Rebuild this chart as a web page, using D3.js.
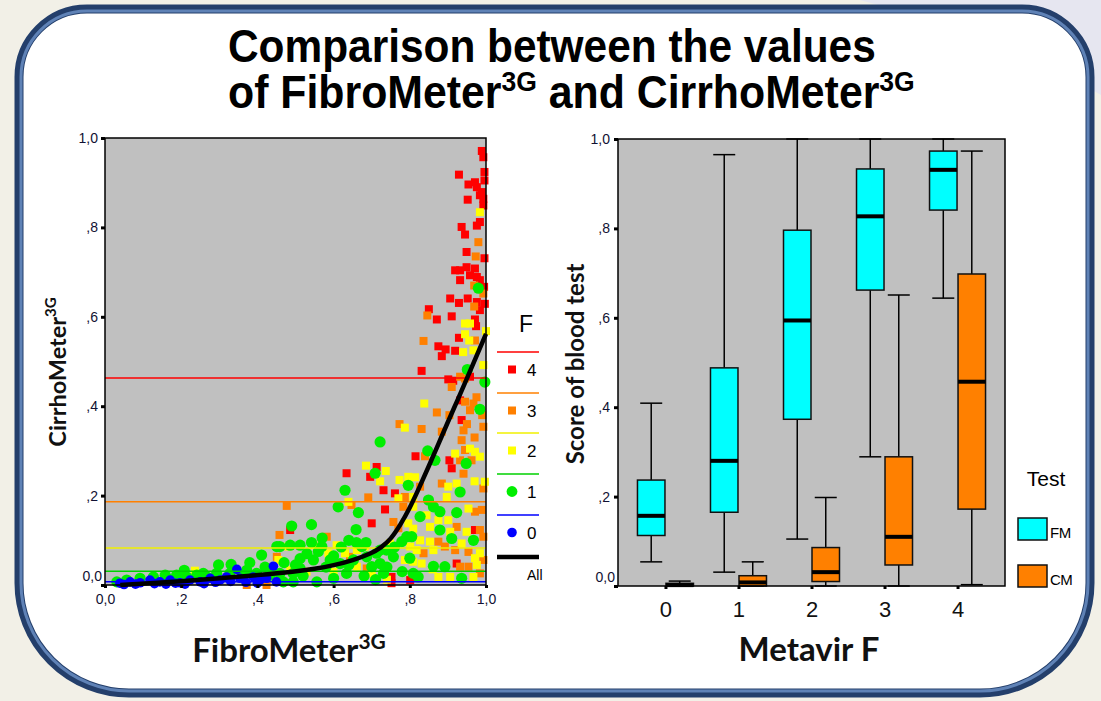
<!DOCTYPE html>
<html><head><meta charset="utf-8">
<script src="https://cdn.jsdelivr.net/npm/d3@7"></script>
<style>body{margin:0;background:#f2f0e7;} svg{display:block}</style>
</head><body><svg id="c" width="1101" height="701"></svg>
<script>
// ---------------- DATA ----------------
const titleLine1 = "Comparison between the values";
const yTicks = [0, 0.2, 0.4, 0.6, 0.8, 1.0];
const xTicks = [0, 0.2, 0.4, 0.6, 0.8, 1.0];

// Scatter: [FibroMeter3G, CirrhoMeter3G] by Metavir F
const scatterF4 = [[0.989,0.971],[0.993,0.957],[0.929,0.918],[0.996,0.924],[0.996,0.905],[0.954,0.896],[0.971,0.901],[0.976,0.89],[0.989,0.879],[0.984,0.872],[0.993,0.864],[0.952,0.862],[0.993,0.849],[0.976,0.804],[0.984,0.812],[0.936,0.801],[0.945,0.784],[0.949,0.745],[0.996,0.731],[0.919,0.704],[0.932,0.704],[0.949,0.711],[0.971,0.708],[0.958,0.693],[0.976,0.689],[0.984,0.682],[0.932,0.682],[0.995,0.667],[0.906,0.641],[0.929,0.631],[0.952,0.641],[0.976,0.633],[0.984,0.615],[0.997,0.629],[0.85,0.617],[0.871,0.594],[0.91,0.601],[0.971,0.594],[0.974,0.579],[0.929,0.553],[0.875,0.534],[0.894,0.527],[0.919,0.524],[0.884,0.512],
[0.831,0.479],[0.901,0.460],[0.914,0.457],[0.958,0.466],[0.932,0.413],[0.936,0.369],[0.815,0.288],[0.904,0.279],[0.910,0.261],[0.731,0.212],[0.761,0.205],[0.735,0.169],[0.971,0.123],[0.923,0.048],[0.752,0.018],[0.752,0.004],[0.801,0.011],
[0.634,0.250],[0.696,0.242],[0.713,0.264],[0.700,0.138],[0.486,0.123]];
const scatterF3 = [[0.98,0.767],[0.973,0.735],[0.969,0.67],[0.993,0.652],[0.969,0.623],[0.846,0.603],[0.971,0.547],[0.836,0.546],
[0.932,0.466],[0.945,0.462],[0.910,0.443],[0.871,0.386],[0.904,0.380],[0.958,0.391],[0.967,0.406],[0.993,0.354],[0.773,0.360],[0.831,0.349],[0.884,0.343],[0.941,0.346],[0.936,0.324],[0.945,0.302],[0.840,0.288],[0.932,0.279],[0.962,0.279],[0.941,0.249],[0.827,0.220],[0.884,0.227],[0.993,0.216],[0.787,0.197],[0.783,0.175],[0.971,0.164],[0.989,0.168],[0.757,0.141],[0.770,0.127],[0.923,0.130],[0.984,0.123],[0.875,0.097],[0.993,0.108],[0.836,0.071],[0.892,0.086],[0.919,0.078],[0.954,0.074],[0.993,0.056],[0.932,0.041],[0.954,0.041],[0.984,0.026],
[0.95,0.36],[0.97,0.33],[0.99,0.38],[0.945,0.41],[0.975,0.42],
[0.691,0.196],[0.582,0.108],[0.477,0.177],[0.647,0.179],[0.643,0.063],[0.687,0.037],
[0.458,0.112],[0.451,0.063],[0.372,0.0],[0.424,0.0]];
const scatterF2 = [[0.984,0.834],[0.945,0.585],[0.958,0.585],[0.945,0.561],[0.956,0.547],[1.0,0.568],[0.94,0.521],[0.967,0.525],
[0.993,0.492],[0.838,0.406],[0.787,0.352],[0.919,0.294],[0.958,0.305],[0.971,0.298],[0.984,0.287],[0.737,0.255],[0.722,0.232],[0.773,0.235],[0.796,0.242],[0.814,0.241],[0.901,0.220],[0.923,0.227],[0.970,0.232],[0.997,0.231],[0.897,0.197],[0.770,0.194],[0.809,0.197],[0.809,0.175],[0.844,0.156],[0.875,0.145],[0.901,0.145],[0.954,0.171],[0.796,0.138],[0.809,0.126],[0.853,0.130],[0.906,0.119],[0.949,0.119],[0.827,0.100],[0.853,0.097],[0.936,0.093],[0.748,0.093],[0.801,0.086],[0.818,0.078],[0.862,0.078],[0.984,0.071],[0.971,0.060],[0.787,0.056],[0.809,0.052],[0.831,0.048],[0.976,0.045],[0.875,0.018],[0.906,0.018],[0.967,0.018],
[0.685,0.267],[0.639,0.186],[0.481,0.086],[0.547,0.089],[0.586,0.071],[0.608,0.089],[0.630,0.071],[0.661,0.078],[0.682,0.086],[0.486,0.033],[0.529,0.030],[0.700,0.026],[0.661,0.041],
[0.236,0.032],[0.455,0.056],[0.372,0.022],[0.60,0.03],[0.74,0.012],[0.86,0.035]];
const scatterF1 = [[0.98,0.664],
[0.997,0.454],[0.951,0.482],[0.984,0.393],[0.722,0.320],[0.847,0.300],[0.866,0.279],[0.948,0.272],[0.796,0.223],[0.932,0.208],[0.849,0.190],[0.862,0.175],[0.879,0.164],[0.827,0.153],[0.923,0.162],[0.879,0.123],[0.792,0.108],[0.779,0.097],[0.805,0.108],[0.910,0.104],[0.967,0.100],[0.722,0.078],[0.739,0.078],[0.757,0.063],[0.862,0.042],[0.892,0.041],[0.731,0.026],[0.809,0.026],[0.822,0.018],[0.936,0.015],[0.722,0.048],
[0.630,0.212],[0.612,0.175],[0.665,0.162],[0.709,0.250],[0.490,0.132],[0.542,0.135],[0.659,0.124],[0.685,0.095],[0.459,0.086],[0.486,0.089],[0.512,0.089],[0.542,0.095],[0.569,0.086],[0.591,0.056],[0.512,0.059],[0.547,0.056],[0.634,0.026],[0.617,0.048],[0.652,0.056],[0.674,0.086],[0.687,0.063],[0.713,0.071],[0.700,0.041],[0.468,0.007],[0.494,0.007],[0.556,0.007],
[0.031,0.007],[0.057,0.011],[0.092,0.015],[0.127,0.018],[0.162,0.015],[0.188,0.022],[0.214,0.018],[0.241,0.022],[0.267,0.018],[0.293,0.026],[0.328,0.026],[0.363,0.022],[0.398,0.026],[0.433,0.022],[0.459,0.026],[0.494,0.026],[0.512,0.037],[0.298,0.045],[0.331,0.046],[0.208,0.033],[0.372,0.033],[0.258,0.026],[0.158,0.022],[0.411,0.067],[0.451,0.086],
[0.47,0.05],[0.50,0.045],[0.53,0.07],[0.56,0.075],[0.58,0.04],[0.60,0.065],[0.62,0.085],[0.64,0.045],[0.66,0.095],[0.68,0.02],[0.71,0.012],[0.74,0.04],[0.76,0.085],[0.78,0.03],[0.80,0.06],[0.42,0.04],[0.38,0.05],[0.44,0.03],[0.52,0.02],[0.60,0.015],[0.57,0.105],[0.64,0.10]];
const scatterF0 = [[0.039,0.004],[0.066,0.007],[0.092,0.005],[0.118,0.011],[0.144,0.007],[0.171,0.011],[0.197,0.005],[0.223,0.011],[0.250,0.007],[0.276,0.015],[0.302,0.011],[0.319,0.018],[0.354,0.015],[0.389,0.018],[0.407,0.011],[0.424,0.015],[0.442,0.042],[0.346,0.035],
[0.08,0.002],[0.13,0.003],[0.185,0.004],[0.21,0.002],[0.26,0.003],[0.29,0.006],[0.33,0.008],[0.37,0.006],[0.40,0.004],[0.45,0.007],[0.05,0.001],[0.16,0.002]];

// Group mean reference lines (CirrhoMeter3G) by F
const meanF = ["4","3","2","1","0"];
const meanCM = [0.463, 0.186, 0.083, 0.031, 0.007];

// Overall fit curve (All)
const curveFM = [0.04,0.1,0.2,0.3,0.4,0.5,0.55,0.6,0.65,0.7,0.725,0.75,0.775,0.8,0.825,0.85,0.875,0.9,0.925,0.95,0.975,1.0];
const curveCM = [0.0,0.003,0.008,0.015,0.022,0.030,0.036,0.044,0.055,0.071,0.084,0.102,0.134,0.172,0.218,0.266,0.315,0.365,0.413,0.462,0.512,0.562];

// Box plots: Score of blood test by Metavir F
const metavirF = ["0","1","2","3","4"];
const tests = ["FM","CM"];
const fmMin = [0.054,0.031,0.105,0.289,0.644];
const fmQ1  = [0.113,0.165,0.373,0.662,0.841];
const fmMed = [0.157,0.280,0.594,0.827,0.931];
const fmQ3  = [0.237,0.488,0.796,0.933,0.973];
const fmMax = [0.409,0.965,1.0,1.0,1.0];
const cmMin = [0.0,0.0,0.0,0.0,0.003];
const cmQ1  = [0.0,0.0,0.010,0.047,0.172];
const cmMed = [0.002,0.008,0.031,0.110,0.457];
const cmQ3  = [0.006,0.023,0.086,0.289,0.698];
const cmMax = [0.011,0.054,0.198,0.651,0.973];

// ---------------- DRAW ----------------
const svg = d3.select("#c");
const F = "'Liberation Sans', Arial, sans-serif";
const FB = "Lato, 'Open Sans', sans-serif";
const colF = {"4":"#ff0000","3":"#ff8000","2":"#ffff00","1":"#00ee00","0":"#0000ff"};
const lineCol = {"4":"#ff0000","3":"#ff8000","2":"#f0f000","1":"#00d000","0":"#0000ff"};

// background
svg.append("rect").attr("width",1101).attr("height",701).attr("fill","#f2f0e7");
svg.append("path").attr("d","M860,0 L1101,0 L1101,95 Q1010,40 860,0 Z").attr("fill","#e6e6f0");

function rpath(x,y,w,h,tl,tr,br,bl){
  return `M${x+tl},${y} L${x+w-tr},${y} A${tr},${tr} 0 0 1 ${x+w},${y+tr} L${x+w},${y+h-br} A${br},${br} 0 0 1 ${x+w-br},${y+h} L${x+bl},${y+h} A${bl},${bl} 0 0 1 ${x},${y+h-bl} L${x},${y+tl} A${tl},${tl} 0 0 1 ${x+tl},${y} Z`;
}
svg.append("path").attr("d",rpath(19,9,1071,684,68,68,110,110)).attr("fill","#ffffff").attr("stroke","#243f6b").attr("stroke-width",9);
svg.append("path").attr("d",rpath(21,11,1067,680,66,66,108,108)).attr("fill","none").attr("stroke","#5f82b6").attr("stroke-width",3);

// title
function scaledText(parts, x0, x1, baseline, size){
  const t = svg.append("text").attr("font-family",F).attr("font-weight","bold").attr("font-size",size).attr("fill","#000");
  parts.forEach(p=>{
    const ts = t.append("tspan").text(p.t);
    if(p.sup){ ts.attr("font-size",size*0.62).attr("dy",-size*0.36); }
    else if(p.after){ ts.attr("dy",size*0.36); }
  });
  const w = t.node().getComputedTextLength();
  t.attr("transform",`translate(${x0},${baseline}) scale(${(x1-x0)/w},1)`);
}
scaledText([{t:titleLine1}],228,876,62,46);
scaledText([{t:"of FibroMeter"},{t:"3G",sup:true},{t:" and CirrhoMeter",after:true},{t:"3G",sup:true}],228,915,108,46);

// ---------- Left scatter plot ----------
const xL = d3.scaleLinear().domain([0,1]).range([105,486]);
const yL = d3.scaleLinear().domain([0,1]).range([585,138]);
const gL = svg.append("g");
gL.append("rect").attr("x",xL(0)).attr("y",yL(1)).attr("width",xL(1)-xL(0)).attr("height",yL(0)-yL(1)).attr("fill","#c0c0c0");
const fmt = d => d===0 ? "0,0" : (d===1 ? "1,0" : ","+Math.round(d*10));

function squares(data, col){
  gL.append("g").selectAll("rect").data(data).join("rect")
    .attr("x",d=>xL(d[0])-4).attr("y",d=>yL(d[1])-4).attr("width",8).attr("height",8).attr("fill",col);
}
function circles(data, col, r){
  gL.append("g").selectAll("circle").data(data).join("circle")
    .attr("cx",d=>xL(d[0])).attr("cy",d=>yL(d[1])).attr("r",r).attr("fill",col);
}
squares(scatterF4, colF["4"]);
squares(scatterF3, colF["3"]);
squares(scatterF2, colF["2"]);
circles(scatterF1, colF["1"], 5.6);
circles(scatterF0, colF["0"], 4.8);

gL.append("g").selectAll("line").data(meanF).join("line")
  .attr("x1",xL(0)).attr("x2",xL(1)).attr("y1",(d,i)=>yL(meanCM[i])).attr("y2",(d,i)=>yL(meanCM[i]))
  .attr("stroke",d=>lineCol[d]).attr("stroke-width",1.5);

const curvePts = curveFM.map((x,i)=>[x,curveCM[i]]);
gL.append("path").datum(curvePts).attr("d",d3.line().x(d=>xL(d[0])).y(d=>yL(d[1])).curve(d3.curveBasis))
  .attr("fill","none").attr("stroke","#000").attr("stroke-width",4.5);

gL.append("rect").attr("x",xL(0)).attr("y",yL(1)).attr("width",xL(1)-xL(0)).attr("height",yL(0)-yL(1)).attr("fill","none").attr("stroke","#000").attr("stroke-width",1.5);

const axYL = gL.append("g").attr("transform",`translate(${xL(0)},0)`)
  .call(d3.axisLeft(yL).tickValues(yTicks).tickFormat(fmt).tickSize(4).tickPadding(3));
const axXL = gL.append("g").attr("transform",`translate(0,${yL(0)})`)
  .call(d3.axisBottom(xL).tickValues(xTicks).tickFormat(fmt).tickSize(3).tickPadding(6));
[axYL,axXL].forEach(a=>{
  a.select(".domain").remove();
  a.selectAll(".tick line").attr("stroke","#000").attr("stroke-width",3);
  a.selectAll(".tick text").attr("font-family",F).attr("font-size",14).attr("fill","#111133");
});
axYL.selectAll(".tick text").filter(d=>d===0).attr("y",-9).attr("x",-3);

// left legend
const lg = svg.append("g").attr("font-family",F);
lg.append("text").attr("x",526).attr("y",332).attr("text-anchor","middle").attr("font-size",23).text("F");
const legY = {"4":352,"3":393,"2":433,"1":474,"0":515};
meanF.forEach(k=>{
  const y = legY[k];
  lg.append("line").attr("x1",497).attr("x2",539).attr("y1",y).attr("y2",y).attr("stroke",lineCol[k]).attr("stroke-width",1.5);
  if(k==="1"||k==="0") lg.append("circle").attr("cx",512).attr("cy",y+17.5).attr("r",k==="1"?5.4:4.8).attr("fill",colF[k]);
  else lg.append("rect").attr("x",508).attr("y",y+13.5).attr("width",8).attr("height",8).attr("fill",colF[k]);
  lg.append("text").attr("x",527).attr("y",y+24).attr("font-size",17).text(k);
});
lg.append("line").attr("x1",497).attr("x2",539).attr("y1",557).attr("y2",557).attr("stroke","#000").attr("stroke-width",4.5);
lg.append("text").attr("x",527).attr("y",580).attr("font-size",14).text("All");

// left axis titles
const tY = svg.append("text").attr("transform","translate(66,372) rotate(-90)").attr("text-anchor","middle")
  .attr("font-family",FB).attr("font-weight","bold").attr("font-size",23.5).attr("fill","#111");
tY.append("tspan").text("CirrhoMeter");
tY.append("tspan").text("3G").attr("font-size",15).attr("dy",-10);
const tX = svg.append("text").attr("x",289).attr("y",662).attr("text-anchor","middle")
  .attr("font-family",FB).attr("font-weight","bold").attr("font-size",33).attr("fill","#111");
tX.append("tspan").text("FibroMeter");
tX.append("tspan").text("3G").attr("font-size",21).attr("dy",-13);

// ---------- Right box plot ----------
const xR = d3.scalePoint().domain(metavirF).range([618,1005]).padding(0.65);
const yR = d3.scaleLinear().domain([0,1]).range([586,139]);
const off = d3.scaleBand().domain(tests).range([-28.5,28.5]);
const gR = svg.append("g");
gR.append("rect").attr("x",618).attr("y",yR(1)).attr("width",1005-618).attr("height",yR(0)-yR(1)).attr("fill","#c0c0c0");

const boxes = [];
metavirF.forEach((f,i)=>{
  boxes.push({f,test:"FM",min:fmMin[i],q1:fmQ1[i],med:fmMed[i],q3:fmQ3[i],max:fmMax[i]});
  boxes.push({f,test:"CM",min:cmMin[i],q1:cmQ1[i],med:cmMed[i],q3:cmQ3[i],max:cmMax[i]});
});
const boxCol = {FM:"#00ffff", CM:"#ff8000"};
const bw = off.bandwidth();
const bg = gR.selectAll("g.box").data(boxes).join("g").attr("class","box")
  .attr("transform",d=>`translate(${xR(d.f)+off(d.test)},0)`);
bg.append("line").attr("x1",bw/2).attr("x2",bw/2).attr("y1",d=>yR(d.max)).attr("y2",d=>yR(d.q3)).attr("stroke","#000").attr("stroke-width",1.5);
bg.append("line").attr("x1",bw/2).attr("x2",bw/2).attr("y1",d=>yR(d.q1)).attr("y2",d=>yR(d.min)).attr("stroke","#000").attr("stroke-width",1.5);
bg.append("line").attr("x1",bw/2-11).attr("x2",bw/2+11).attr("y1",d=>yR(d.max)).attr("y2",d=>yR(d.max)).attr("stroke","#000").attr("stroke-width",1.5);
bg.append("line").attr("x1",bw/2-11).attr("x2",bw/2+11).attr("y1",d=>yR(d.min)).attr("y2",d=>yR(d.min)).attr("stroke","#000").attr("stroke-width",1.5);
bg.append("rect").attr("x",0.5).attr("width",bw-1).attr("y",d=>yR(d.q3)).attr("height",d=>Math.max(0.5,yR(d.q1)-yR(d.q3)))
  .attr("fill",d=>boxCol[d.test]).attr("stroke","#111").attr("stroke-width",1.5);
bg.append("line").attr("x1",0.5).attr("x2",bw-0.5).attr("y1",d=>yR(d.med)).attr("y2",d=>yR(d.med)).attr("stroke","#000").attr("stroke-width",4);

gR.append("rect").attr("x",618).attr("y",yR(1)).attr("width",1005-618).attr("height",yR(0)-yR(1)).attr("fill","none").attr("stroke","#000").attr("stroke-width",1.5);

const axYR = gR.append("g").attr("transform","translate(618,0)")
  .call(d3.axisLeft(yR).tickValues(yTicks).tickFormat(fmt).tickSize(4).tickPadding(4));
const axXR = gR.append("g").attr("transform",`translate(0,${yR(0)})`)
  .call(d3.axisBottom(xR).tickSize(3).tickPadding(12));
[axYR,axXR].forEach(a=>{
  a.select(".domain").remove();
  a.selectAll(".tick line").attr("stroke","#000").attr("stroke-width",3);
  a.selectAll(".tick text").attr("font-family",F).attr("fill","#111133");
});
axYR.selectAll(".tick text").attr("font-size",14);
axYR.selectAll(".tick text").filter(d=>d===0).attr("y",-9).attr("x",-3);
axXR.selectAll(".tick text").attr("font-size",22).attr("fill","#111");

svg.append("text").attr("transform","translate(584,364) rotate(-90)").attr("text-anchor","middle")
  .attr("font-family",FB).attr("font-weight","bold").attr("font-size",24).attr("fill","#111").text("Score of blood test");
svg.append("text").attr("x",809).attr("y",661).attr("text-anchor","middle")
  .attr("font-family",FB).attr("font-weight","bold").attr("font-size",33).attr("fill","#111").text("Metavir F");

// right legend
const rl = svg.append("g").attr("font-family",F);
rl.append("text").attr("x",1046).attr("y",486).attr("text-anchor","middle").attr("font-size",21).text("Test");
const legR = {FM:518, CM:565};
tests.forEach(t=>{
  rl.append("rect").attr("x",1018).attr("y",legR[t]).attr("width",29).attr("height",22).attr("fill",boxCol[t]).attr("stroke","#111").attr("stroke-width",1.5);
  rl.append("text").attr("x",1050).attr("y",legR[t]+20).attr("font-size",15).attr("letter-spacing",-0.5).text(t);
});
</script></body></html>
